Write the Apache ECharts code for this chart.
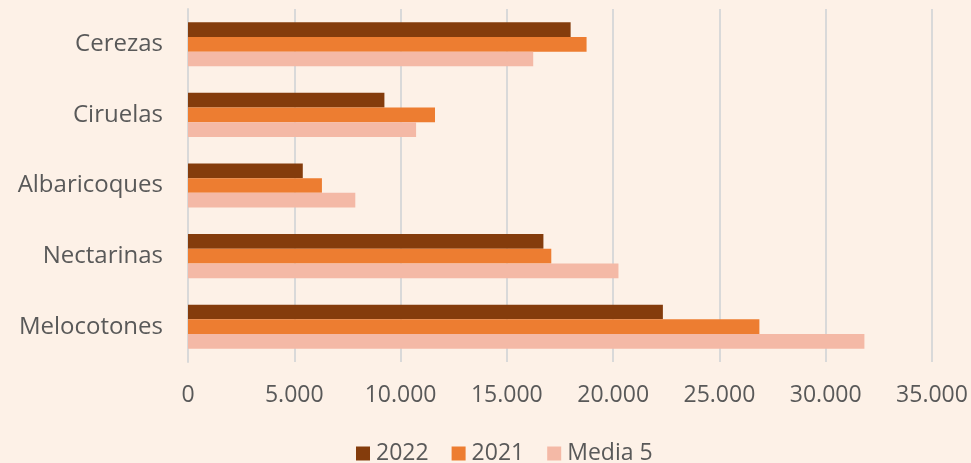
<!DOCTYPE html>
<html>
<head>
<meta charset="utf-8">
<script src="https://cdn.jsdelivr.net/npm/echarts@6/dist/echarts.min.js"></script>
<style>
html,body{margin:0;padding:0;background:#FDF1E7;}
#chart{width:971px;height:463px;}
</style>
</head>
<body>
<div id="chart"></div>
<script>
const categories = ['Melocotones', 'Nectarinas', 'Albaricoques', 'Ciruelas', 'Cerezas'];
const values2022 = [22340, 16720, 5400, 9240, 18000];
const values2021 = [26880, 17090, 6300, 11620, 18750];
const valuesMedia5 = [31820, 20250, 7870, 10730, 16240];
const xTicks = [0, 5000, 10000, 15000, 20000, 25000, 30000, 35000];

const font = 'Open Sans';
const chart = echarts.init(document.getElementById('chart'));
function fmt(v){ return String(v).replace(/\B(?=(\d{3})+(?!\d))/g, '.'); }
chart.setOption({
  backgroundColor: '#FDF1E7',
  animation: false,
  textStyle: { fontFamily: font },
  grid: { left: 188, right: 39, top: 9, bottom: 101, containLabel: false },
  legend: {
    data: ['2022', '2021', 'Media 5'],
    top: 437,
    left: 351,
    itemWidth: 14, itemHeight: 14, itemGap: 23,
    icon: 'rect',
    textStyle: { color: '#595959', fontSize: 23, fontFamily: font, padding: [0,0,0,1] }
  },
  xAxis: {
    type: 'value',
    min: xTicks[0], max: xTicks[xTicks.length - 1], interval: 5000,
    axisLine: { show: false }, axisTick: { show: false },
    splitLine: { lineStyle: { color: '#D9D9D9', width: 2 } },
    axisLabel: { color: '#595959', fontSize: 23, margin: 22, formatter: fmt }
  },
  yAxis: {
    type: 'category', data: categories,
    axisLine: { show: true, lineStyle: { color: '#D9D9D9', width: 2 } },
    axisTick: { show: false },
    axisLabel: { color: '#595959', fontSize: 24, margin: 25 }
  },
  series: [
    { name: '2022', type: 'bar', data: values2022, barWidth: 14.7, barGap: '0%', itemStyle: { color: '#843C0C' } },
    { name: '2021', type: 'bar', data: values2021, barWidth: 14.7, barGap: '0%', itemStyle: { color: '#ED7D31' } },
    { name: 'Media 5', type: 'bar', data: valuesMedia5, barWidth: 14.7, barGap: '0%', itemStyle: { color: '#F4B9A6' } }
  ]
});
</script>
</body>
</html>
